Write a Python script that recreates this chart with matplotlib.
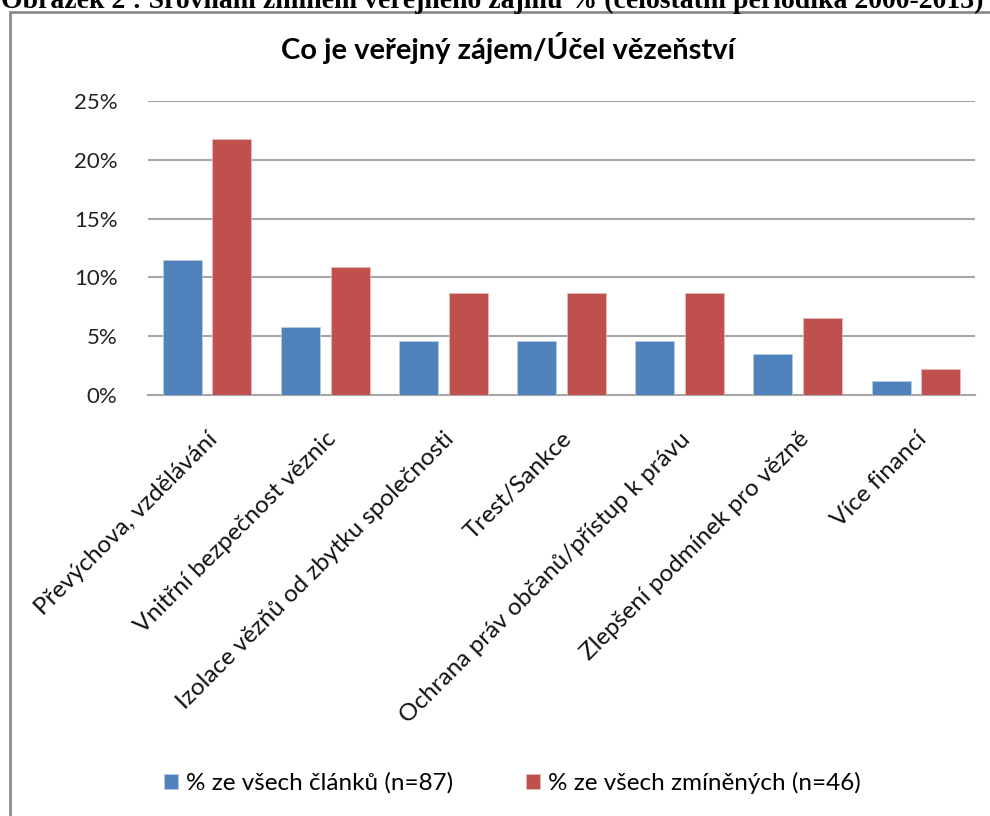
import matplotlib
matplotlib.use('Agg')
import matplotlib.pyplot as plt
import numpy as np
from matplotlib.patches import Rectangle

# Data
kategorie = ['Převýchova, vzdělávání', 'Vnitřní bezpečnost věznic',
             'Izolace vězňů od zbytku společnosti', 'Trest/Sankce',
             'Ochrana práv občanů/přístup k právu',
             'Zlepšení podmínek pro vězně', 'Více financí']
clanky = [11.5, 5.75, 4.6, 4.6, 4.6, 3.45, 1.15]
zminene = [21.74, 10.87, 8.7, 8.7, 8.7, 6.52, 2.17]
nazvy_rad = ['% ze všech článků (n=87)', '% ze všech zmíněných (n=46)']
yticks = [0, 5, 10, 15, 20, 25]

plt.rcParams['font.family'] = ['Lato', 'DejaVu Sans']

W, H = 990, 816
fig = plt.figure(figsize=(W / 100, H / 100), dpi=100)

# ramecek grafu
fig.patches.append(Rectangle((10 / W, -0.05), 990 / W, 1 - 12 / H + 0.05,
                             transform=fig.transFigure, fill=False,
                             edgecolor='#8c8c8c', linewidth=2))

# orezany popisek nahore
fig.text(492 / W, 1 - 8 / H, 'Obrázek 2 : Srovnání zmínění veřejného zájmu % (celostátní periodika 2000-2013)',
         family='Liberation Serif', weight='bold', fontsize=20,
         ha='center', va='baseline')

ax = fig.add_axes([148 / W, 1 - 395 / H, (975 - 148) / W, (395 - 101) / H])

x = np.arange(len(kategorie))
sirka = 0.33
ax.bar(x - 0.21, clanky, sirka, color='#4F81BD', edgecolor='#b8cce4', linewidth=0.6,
       label=nazvy_rad[0], zorder=3)
ax.bar(x + 0.21, zminene, sirka, color='#C0504D', edgecolor='#e6b9b8', linewidth=0.6,
       label=nazvy_rad[1], zorder=3)

ax.set_xlim(-0.5, len(kategorie) - 0.5)
ax.set_ylim(0, 25)
ax.set_yticks(yticks)
ax.set_yticklabels([f'{v}%' for v in yticks], fontsize=16, color='#222222')
ax.yaxis.grid(True, color='#a6a6a6', linewidth=1.5, zorder=0)
ax.tick_params(axis='y', length=0, pad=22)
ax.tick_params(axis='x', length=0)
for s in ['top', 'right', 'left']:
    ax.spines[s].set_visible(False)
ax.spines['bottom'].set_color('#a6a6a6')
ax.spines['bottom'].set_linewidth(1.5)

ax.set_xticks(x)
ax.set_xticklabels(kategorie, rotation=45, ha='right', va='top',
                   rotation_mode='anchor', fontsize=17.5, color='#111111')
ax.tick_params(axis='x', pad=24)

fig.text(508 / W, 1 - 48 / H, 'Co je veřejný zájem/Účel vězeňství',
         fontsize=21, weight='bold', ha='center', va='center')

fig.legend(loc='center', bbox_to_anchor=(512 / W, 1 - 783 / H), ncol=2,
           frameon=False, fontsize=17.5, handlelength=0.6, handleheight=0.6,
           handletextpad=0.3, columnspacing=3.0)

fig.savefig('out.png', dpi=100)
